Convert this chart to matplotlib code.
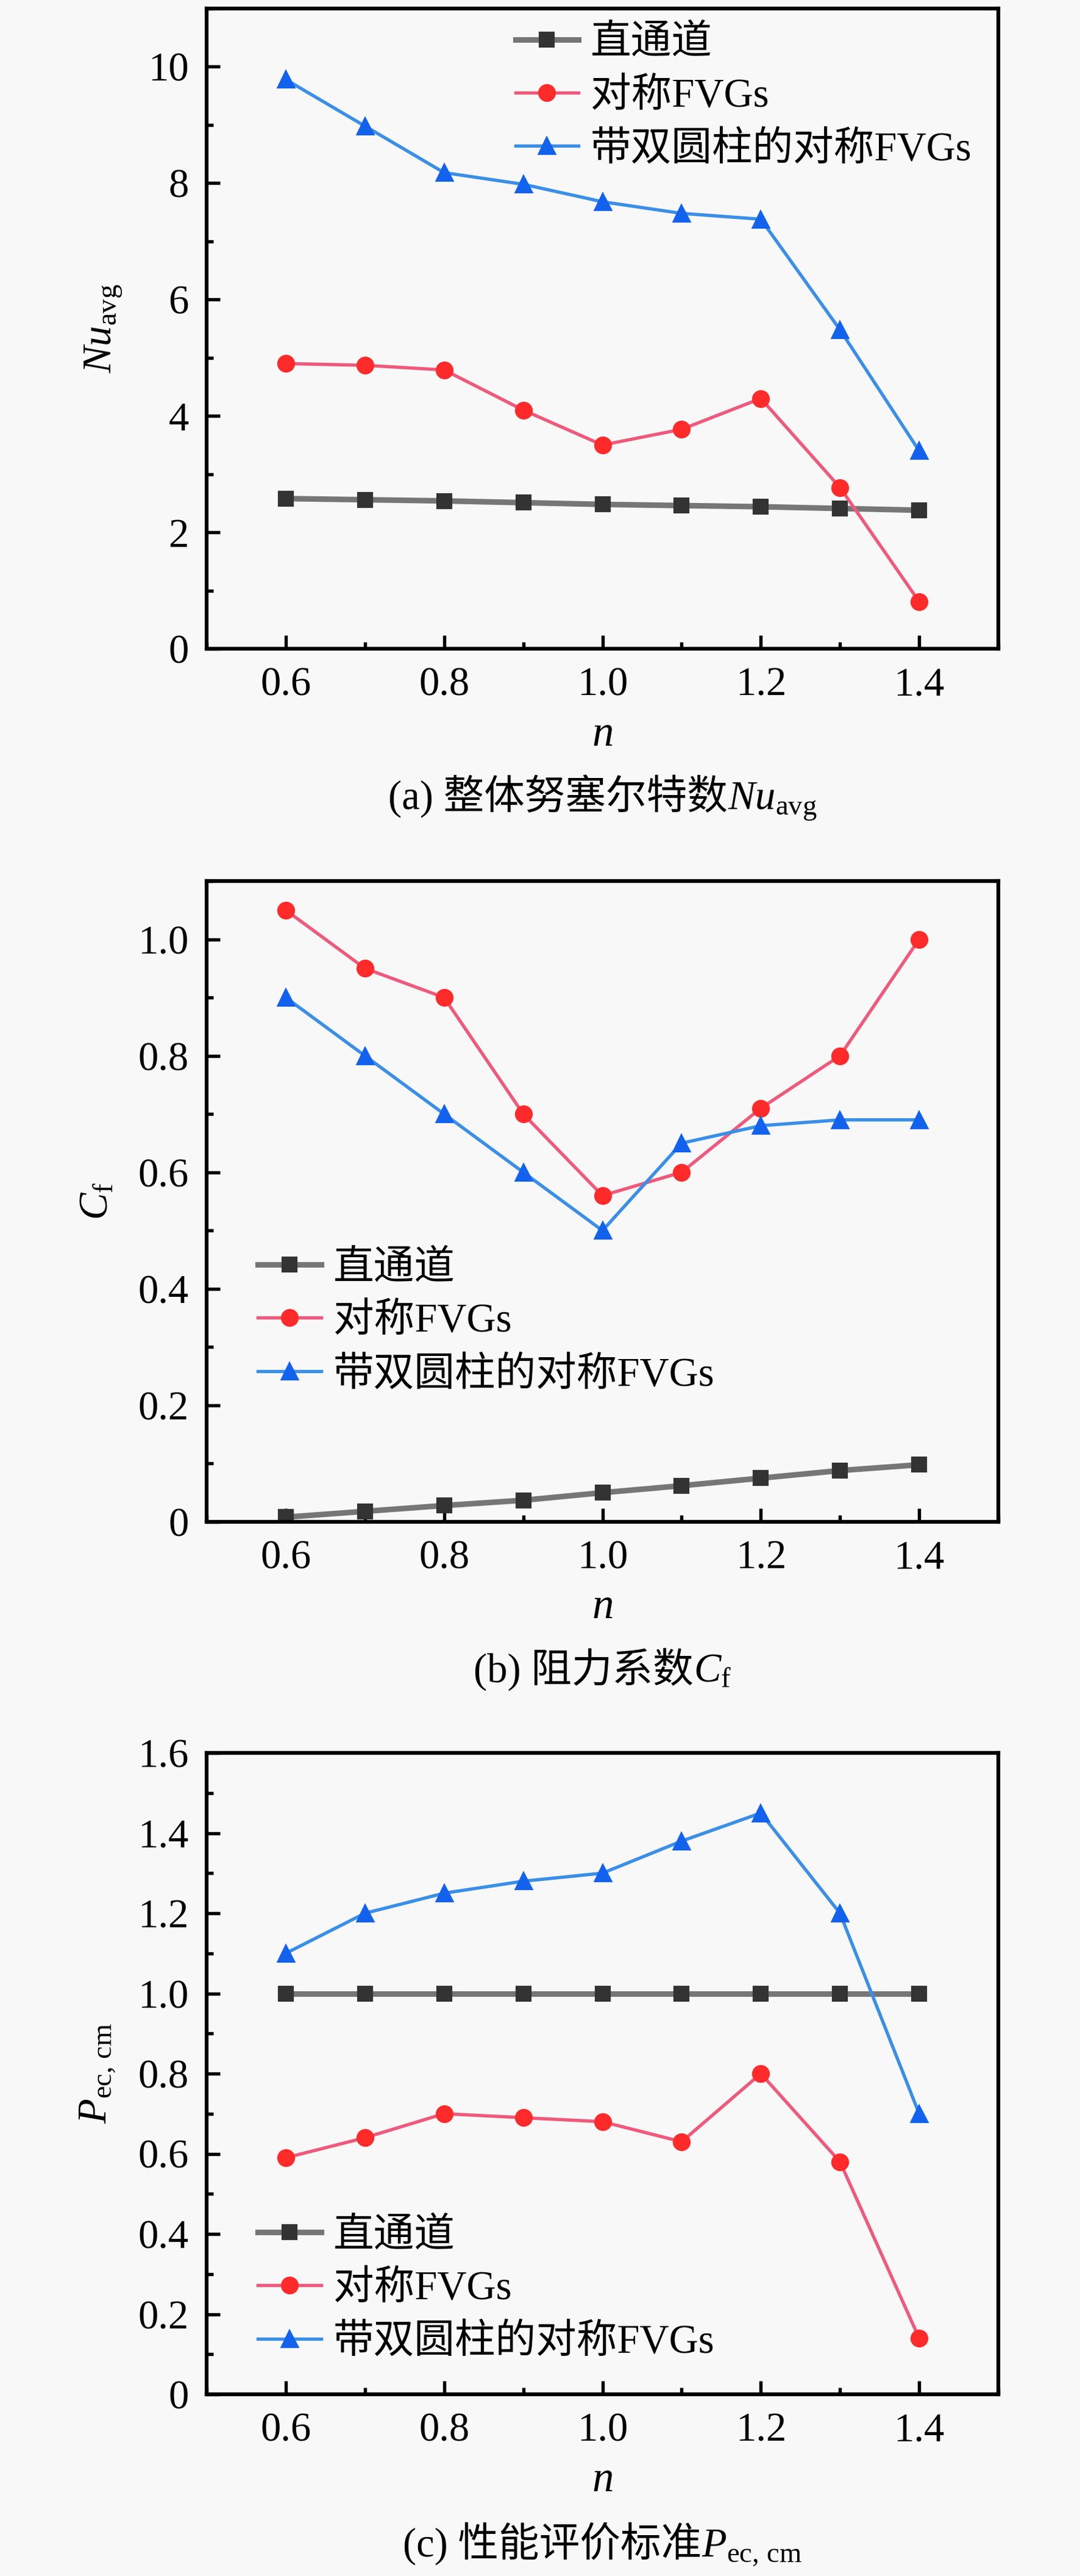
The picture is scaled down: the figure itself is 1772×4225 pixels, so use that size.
import numpy as np
import matplotlib
matplotlib.use("Agg")
import matplotlib.pyplot as plt
from matplotlib.ticker import MultipleLocator, FuncFormatter

plt.rcParams['font.family'] = ['Liberation Serif', 'Noto Sans CJK SC', 'DejaVu Sans']
plt.rcParams['mathtext.fontset'] = 'custom'
plt.rcParams['mathtext.rm'] = 'Liberation Serif'
plt.rcParams['mathtext.it'] = 'Liberation Serif:italic'
plt.rcParams['mathtext.bf'] = 'Liberation Serif:bold'

# ---------------- data ----------------
n_values = [0.6, 0.7, 0.8, 0.9, 1.0, 1.1, 1.2, 1.3, 1.4]
series_names = ['直通道', '对称FVGs', '带双圆柱的对称FVGs']

nu_straight = [2.58, 2.56, 2.54, 2.51, 2.48, 2.46, 2.44, 2.41, 2.38]
nu_fvg = [4.90, 4.87, 4.79, 4.10, 3.50, 3.77, 4.30, 2.77, 0.81]
nu_fvg_cyl = [9.78, 8.98, 8.18, 7.98, 7.68, 7.48, 7.38, 5.48, 3.40]

cf_straight = [0.008, 0.018, 0.028, 0.037, 0.050, 0.062, 0.075, 0.088, 0.098]
cf_fvg = [1.05, 0.95, 0.90, 0.70, 0.56, 0.60, 0.71, 0.80, 1.00]
cf_fvg_cyl = [0.90, 0.80, 0.70, 0.60, 0.50, 0.65, 0.68, 0.69, 0.69]

pec_straight = [1.0, 1.0, 1.0, 1.0, 1.0, 1.0, 1.0, 1.0, 1.0]
pec_fvg = [0.59, 0.64, 0.70, 0.69, 0.68, 0.63, 0.80, 0.58, 0.14]
pec_fvg_cyl = [1.10, 1.20, 1.25, 1.28, 1.30, 1.38, 1.45, 1.20, 0.70]

ylabels = [r'$Nu_{\mathrm{avg}}$', r'$C_{\mathrm{f}}$', r'$P_{\mathrm{ec,\,cm}}$']
caption_text = ['(a) 整体努塞尔特数', '(b) 阻力系数', '(c) 性能评价标准']
caption_math = [r'$Nu_{\mathrm{avg}}$', r'$C_{\mathrm{f}}$', r'$P_{\mathrm{ec,\,cm}}$']

W, H = 1772, 4225
dpi = 300
fig = plt.figure(figsize=(W / dpi, H / dpi), dpi=dpi, facecolor='#f8f8f8')

left = 339 / W
width = (1638 - 339) / W
panels = [
    dict(top=14, bot=1064, data=(nu_straight, nu_fvg, nu_fvg_cyl), ylim=(0, 11), major=2, minor=1,
         leg=(0.39, 0.862), nlab=1205, cap=1308, ylx=170),
    dict(top=1445, bot=2496, data=(cf_straight, cf_fvg, cf_fvg_cyl), ylim=(0, 1.1), major=0.2, minor=0.1,
         leg=(0.065, 0.312), nlab=2637, cap=2739, ylx=160),
    dict(top=2875, bot=3927, data=(pec_straight, pec_fvg, pec_fvg_cyl), ylim=(0, 1.6), major=0.2, minor=0.1,
         leg=(0.065, 0.1635), nlab=4068, cap=4173, ylx=160),
]

styles = [
    dict(color='#767676', lw=2.2, marker='s', ms=5.5, mfc='#333333', mec='#333333'),
    dict(color='#ee5a7c', lw=1.3, marker='o', ms=6.0, mfc='#ff2a2a', mec='#ff2a2a'),
    dict(color='#3a8fe6', lw=1.3, marker='^', ms=6.0, mfc='#1262ee', mec='#1262ee'),
]


def fmt(v, pos):
    if abs(v) < 1e-9:
        return '0'
    if float(v).is_integer() and v >= 2:
        return '%d' % v
    return '%.1f' % v


cap_pairs = []
for i, p in enumerate(panels):
    ax = fig.add_axes([left, 1 - p['bot'] / H, width, (p['bot'] - p['top']) / H])
    ax.set_facecolor('#f8f8f8')
    for name, ys, st in zip(series_names, p['data'], styles):
        ax.plot(n_values, ys, label=name, **st)
    ax.set_xlim(0.5, 1.5)
    ax.set_ylim(*p['ylim'])
    ax.xaxis.set_major_locator(MultipleLocator(0.2))
    ax.xaxis.set_minor_locator(MultipleLocator(0.1))
    ax.yaxis.set_major_locator(MultipleLocator(p['major']))
    ax.yaxis.set_minor_locator(MultipleLocator(p['minor']))
    ax.xaxis.set_major_formatter(FuncFormatter(lambda v, pos: '%.1f' % v))
    ax.yaxis.set_major_formatter(FuncFormatter(fmt))
    ax.tick_params(which='both', direction='in', top=False, right=False, width=1.3, labelsize=16, pad=7)
    ax.tick_params(which='major', length=5.3)
    ax.tick_params(which='minor', length=2.6)
    for sp in ax.spines.values():
        sp.set_linewidth(1.5)
    ax.legend(loc='center left', bbox_to_anchor=p['leg'], frameon=False, fontsize=16,
              handlelength=1.55, handletextpad=0.3, labelspacing=0.39, borderpad=0, borderaxespad=0)
    fig.text(p['ylx'] / W, 1 - (p['top'] + p['bot']) / 2 / H, ylabels[i], rotation=90,
             ha='center', va='center', fontsize=16)
    fig.text((339 + 1638) / 2 / W, 1 - p['nlab'] / H, r'$n$', ha='center', va='center', fontsize=17)
    t1 = fig.text(0.5, 1 - p['cap'] / H, caption_text[i], ha='right', va='baseline', fontsize=16)
    t2 = fig.text(0.5, 1 - p['cap'] / H, caption_math[i], ha='left', va='baseline', fontsize=16)
    cap_pairs.append((t1, t2, p))

fig.canvas.draw()
r = fig.canvas.get_renderer()
for t1, t2, p in cap_pairs:
    w1 = t1.get_window_extent(r).width
    w2 = t2.get_window_extent(r).width
    cx = (339 + 1638) / 2
    split = cx - (w1 + w2) / 2 + w1
    yb = 1 - (p['cap'] + 20) / H
    t1.set_position((split / W, yb))
    t2.set_position((split / W, yb))

fig.savefig('out.png', dpi=dpi, facecolor=fig.get_facecolor())
